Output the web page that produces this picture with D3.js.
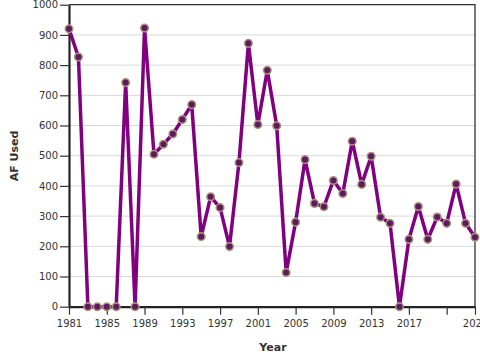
<!DOCTYPE html>
<html><head><meta charset="utf-8">
<script src="https://cdn.jsdelivr.net/npm/d3@7"></script>
<style>body{margin:0;background:#fff}svg{display:block;font-family:"DejaVu Sans",sans-serif}</style>
</head><body><svg id="c" width="480" height="360"></svg>
<script>
const years = d3.range(1981, 2025);
const afUsed = [920,827,0,0,0,0,742,0,923,505,538,572,620,669,232,364,328,199,477,872,603,783,599,113,280,487,342,331,418,375,548,405,498,296,276,0,223,332,223,297,276,406,276,230];
const yTicks = [0,100,200,300,400,500,600,700,800,900,1000];
const xTicks = [1981,1985,1989,1993,1997,2001,2005,2009,2013,2017,2021,2024];
const xLabels = ["1981","1985","1989","1993","1997","2001","2005","2009","2013","2017","","2024"];

const data = years.map((y,i)=>({year:y, v:afUsed[i]}));
const L=69, R=475, T=4.7, B=306.7;
const svg = d3.select("#c");
const x = d3.scaleLinear().domain([1981,2024]).range([L,R]);
const y = d3.scaleLinear().domain([0,1000]).range([B,T]);

// grid
svg.append("g").selectAll("line").data(yTicks.slice(1)).join("line")
  .attr("x1",L).attr("x2",R).attr("y1",d=>y(d)).attr("y2",d=>y(d))
  .attr("stroke","#d9d9d9").attr("stroke-width",1);
// frame top/right
svg.append("path").attr("d",`M${L},${T}H${R}V${B}`).attr("fill","none").attr("stroke","#333").attr("stroke-width",1.3);

// y axis
const ya = svg.append("g").attr("transform",`translate(${L},0)`)
  .call(d3.axisLeft(y).tickValues(yTicks).tickFormat(d3.format("d")).tickSize(9).tickPadding(2).tickSizeOuter(0));
ya.select(".domain").attr("stroke","#222").attr("stroke-width",2.2);
ya.selectAll(".tick line").attr("stroke","#333").attr("stroke-width",1.2);
ya.selectAll("text").attr("font-size","10px").attr("fill","#333").attr("font-family","DejaVu Sans");

// x axis
const xa = svg.append("g").attr("transform",`translate(0,${B})`)
  .call(d3.axisBottom(x).tickValues(xTicks).tickFormat((d,i)=>xLabels[i]).tickSize(8).tickPadding(5).tickSizeOuter(0));
xa.select(".domain").attr("stroke","#222").attr("stroke-width",2.2);
xa.selectAll(".tick line").attr("stroke","#333").attr("stroke-width",1.2);
xa.selectAll("text").attr("font-size","10px").attr("fill","#333").attr("font-family","DejaVu Sans");

// line
svg.append("path").datum(data)
  .attr("d", d3.line().x(d=>x(d.year)).y(d=>y(d.v)))
  .attr("fill","none").attr("stroke","#800080").attr("stroke-width",3.5).attr("stroke-linejoin","round");
// points
svg.append("g").selectAll("circle").data(data).join("circle")
  .attr("cx",d=>x(d.year)).attr("cy",d=>y(d.v)).attr("r",3.8)
  .attr("fill","#5e1a5e").attr("stroke","#a8967a").attr("stroke-width",1.5);

// titles
svg.append("text").attr("x",273).attr("y",351).attr("text-anchor","middle")
  .attr("font-size","11px").attr("font-weight","bold").attr("fill","#333").text("Year");
svg.append("text").attr("transform","translate(17.5,156) rotate(-90)").attr("text-anchor","middle")
  .attr("font-size","11px").attr("font-weight","bold").attr("fill","#333").text("AF Used");
</script></body></html>
